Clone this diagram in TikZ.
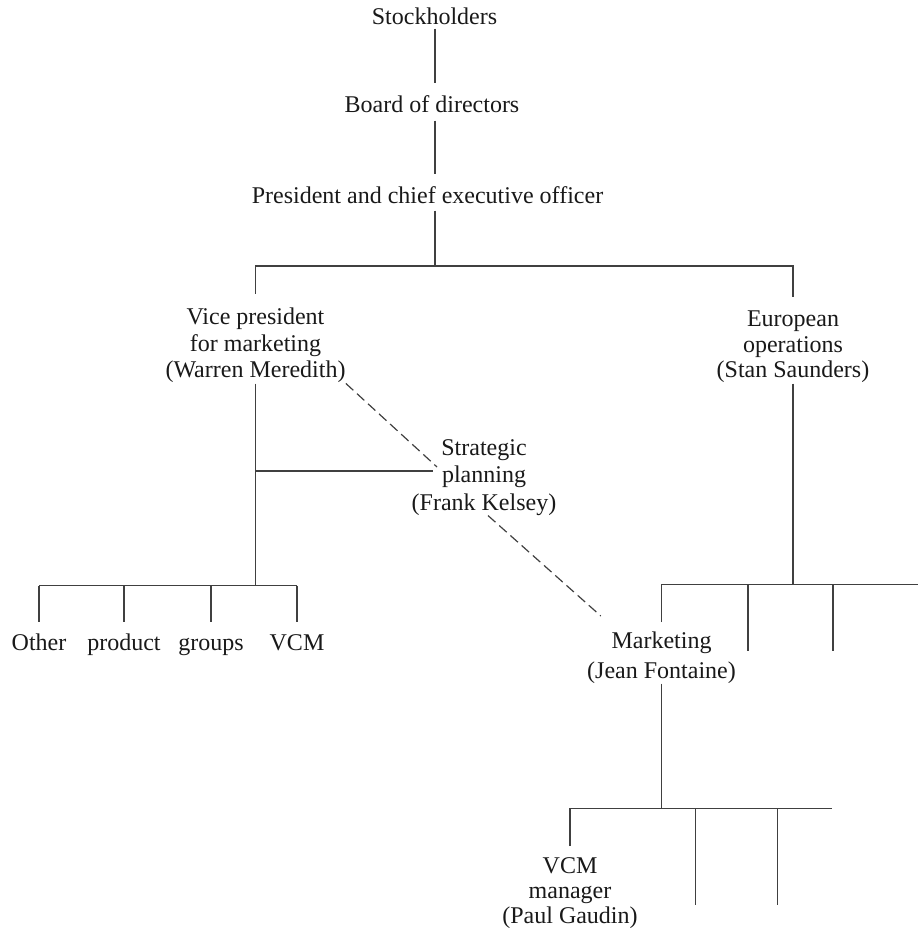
\documentclass[tikz,border=0pt]{standalone}
\usepackage{fontspec}
\setmainfont{Liberation Serif}

\tikzset{
  post/.style={inner sep=0pt, align=center, anchor=base, text=black!90,
    font=\fontsize{12}{13}\selectfont},
  link/.style={line width=0.6pt, draw=black!75},
  staff/.style={link, dash pattern=on 5pt off 2.5pt},
}

\begin{document}
\begin{tikzpicture}[x=0.5pt, y=-0.5pt]
\useasboundingbox (0,0) rectangle (919,929);

% top of the company
\node[post] (stock) at (434.5,25) {Stockholders};
\node[post] (board) at (432,113) {Board of directors};
\node[post] (pres) at (427.5,204) {President and chief executive officer};
\coordinate (topbus) at (435,266);

\draw[link] ([yshift=-1.5pt]topbus |- stock.south) -- ([yshift=6.4pt]topbus |- board.north);
\draw[link] ([yshift=-3.5pt]topbus |- board.south) -- ([yshift=6.3pt]topbus |- pres.north);
\draw[link] ([yshift=-3pt]topbus |- pres.south) -- (topbus);

% second level (base = last line)
\node[post, font=\fontsize{12}{13.35}\selectfont] (vp) at (255.5,378) {Vice president\\for marketing\\(Warren Meredith)};
\node[post, font=\fontsize{12}{12.75}\selectfont] (euro) at (793,378) {European\\operations\\(Stan Saunders)};
\node[post, font=\fontsize{12}{13.75}\selectfont] (strat) at (484,510) {Strategic\\planning\\(Frank Kelsey)};

\draw[link] ([yshift=7pt]vp.north) |- (topbus) -| ([yshift=7pt]euro.north);

% marketing side
\draw[link] (vp.south) -- ++(0,202) coordinate (vpbus);
\coordinate (stratfoot) at ([xshift=-25.5pt,yshift=19.5pt]strat.base);
\draw[link] (vp.south |- stratfoot) -- (stratfoot);

\node[post] (other) at (39,650) {Other};
\node[post] (product) at (124,650) {product};
\node[post] (groups) at (211,650) {groups};
\node[post] (vcm) at (297,650) {VCM};

\draw[link] (vpbus -| other.base) -- (vpbus -| vcm.base);
\foreach \g in {other,product,groups,vcm}
  \draw[link] (vpbus -| \g.base) -- ([yshift=14pt]\g.base);

% staff lines
\coordinate (stratknee) at ([xshift=-23.5pt,yshift=21.5pt]strat.base);
\draw[staff] (vp.south east) -- (stratknee);

% european side
\node[post, font=\fontsize{12}{15}\selectfont] (mkt) at (661.5,678) {Marketing\\(Jean Fontaine)};
\coordinate (dashend) at ([xshift=7pt,yshift=7.5pt]mkt.north west);
\draw[staff] ([xshift=2pt]strat.south) -- (dashend);

\draw[link] (euro.south) -- ++(0,201) coordinate (eurobus);
\draw[link] ([yshift=28pt]mkt.base) |- ([xshift=62.5pt]eurobus);
\foreach \dx in {-22.5,20}
  \draw[link] ([xshift=\dx pt]eurobus) -- ++(0,66);

% below marketing
\node[post, font=\fontsize{12}{12.5}\selectfont] (mgr) at (570,923) {VCM\\manager\\(Paul Gaudin)};

\draw[link] (mkt.south) -- ++(0,125) coordinate (mktbus);
\draw[link] ([yshift=38.5pt]mgr.base) |- ([xshift=85pt]mktbus);
\foreach \dx in {17,58}
  \draw[link] ([xshift=\dx pt]mktbus) -- ++(0,96);
\end{tikzpicture}
\end{document}
